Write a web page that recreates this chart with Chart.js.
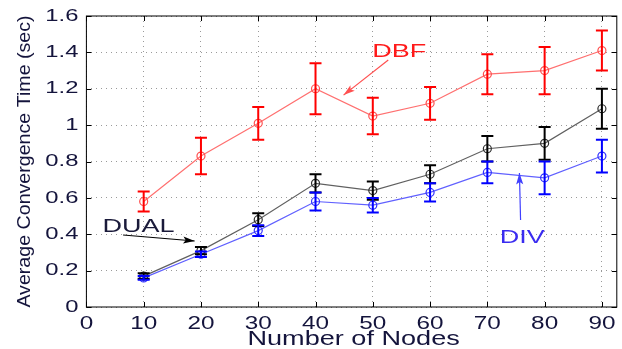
<!DOCTYPE html>
<html>
<head>
<meta charset="utf-8">
<script src="https://cdn.jsdelivr.net/npm/chart.js@4/dist/chart.umd.min.js"></script>
<style>
body { margin: 0; background: #fff; }
</style>
</head>
<body>
<canvas id="myChart" width="622" height="349"></canvas>
<script>
// data
const nodes = [10, 20, 30, 40, 50, 60, 70, 80, 90];
const xTicks = [0, 10, 20, 30, 40, 50, 60, 70, 80, 90];
const yTicks = [0, 0.2, 0.4, 0.6, 0.8, 1, 1.2, 1.4, 1.6];

const dbf = [0.58, 0.83, 1.01, 1.20, 1.05, 1.12, 1.28, 1.30, 1.41];
const dbfErr = [0.055, 0.10, 0.09, 0.14, 0.10, 0.09, 0.11, 0.13, 0.11];

const dual = [0.17, 0.31, 0.48, 0.68, 0.64, 0.73, 0.87, 0.90, 1.09];
const dualErr = [0.015, 0.02, 0.035, 0.05, 0.05, 0.05, 0.07, 0.09, 0.11];

const div = [0.16, 0.29, 0.42, 0.58, 0.56, 0.63, 0.74, 0.71, 0.83];
const divErr = [0.01, 0.015, 0.03, 0.05, 0.04, 0.05, 0.06, 0.09, 0.09];

// labels with arrows, in data units
const notes = [
    { text: 'DBF',  x: 54.6, y: 1.40, from: [52.7, 1.358], to: [44.9, 1.165], color: '#ff1a1a', arrow: '#ff5050' },
    { text: 'DUAL', x: 9.1,  y: 0.44, from: [6.4, 0.396],  to: [18.9, 0.363], color: '#1a1a3a', arrow: '#000000' },
    { text: 'DIV',  x: 76.1, y: 0.38, from: [75.8, 0.478], to: [75.6, 0.737], color: '#3a2cf0', arrow: '#4040ff' }
];

const errors = [dbfErr, dualErr, divErr];
const barColors = ['#ff0000', '#000000', '#0000ff'];

function stretchText(ctx, text, x, y, size, sx, color, align, rot)
{
    ctx.save();
    ctx.translate(x, y);
    if (rot) ctx.rotate(rot);
    ctx.scale(sx, 1);
    ctx.font = size + 'px "Liberation Sans", Arial, sans-serif';
    ctx.fillStyle = color;
    ctx.textAlign = align;
    ctx.textBaseline = 'middle';
    ctx.fillText(text, 0, 0);
    ctx.restore();
}

const errorBars = {
    id: 'errorBars',
    afterDatasetsDraw(chart) {
        const ctx = chart.ctx;
        const xs = chart.scales.x, ys = chart.scales.y;
        ctx.save();
        ctx.lineWidth = 2;
        for (let d = 0; d < errors.length; d++) {
            const vals = chart.data.datasets[d].data;
            ctx.strokeStyle = barColors[d];
            for (let i = 0; i < vals.length; i++) {
                const px = xs.getPixelForValue(vals[i].x);
                const top = ys.getPixelForValue(vals[i].y + errors[d][i]);
                const bot = ys.getPixelForValue(vals[i].y - errors[d][i]);
                ctx.beginPath();
                ctx.moveTo(px, top); ctx.lineTo(px, bot);
                ctx.moveTo(px - 6, top); ctx.lineTo(px + 6, top);
                ctx.moveTo(px - 6, bot); ctx.lineTo(px + 6, bot);
                ctx.stroke();
            }
        }
        ctx.restore();
    }
};

const frameAndText = {
    id: 'frameAndText',
    afterDraw(chart) {
        const ctx = chart.ctx;
        const a = chart.chartArea;
        const xs = chart.scales.x, ys = chart.scales.y;
        ctx.save();
        ctx.strokeStyle = '#000';
        ctx.lineWidth = 1;
        ctx.strokeRect(a.left, a.top, a.right - a.left, a.bottom - a.top);
        // inward ticks
        ctx.beginPath();
        xTicks.forEach(v => {
            const px = Math.round(xs.getPixelForValue(v)) + 0.5;
            ctx.moveTo(px, a.bottom); ctx.lineTo(px, a.bottom - 5);
            ctx.moveTo(px, a.top); ctx.lineTo(px, a.top + 5);
        });
        yTicks.forEach(v => {
            const py = Math.round(ys.getPixelForValue(v)) + 0.5;
            ctx.moveTo(a.left, py); ctx.lineTo(a.left + 5, py);
            ctx.moveTo(a.right, py); ctx.lineTo(a.right - 5, py);
        });
        ctx.stroke();
        ctx.restore();

        // tick labels
        xTicks.forEach(v => {
            stretchText(ctx, String(v), xs.getPixelForValue(v), a.bottom + 17, 18, 1.35, '#14143c', 'center');
        });
        yTicks.forEach(v => {
            stretchText(ctx, String(v), a.left - 8, ys.getPixelForValue(v), 17, 1.4, '#14143c', 'right');
        });
        // axis titles
        stretchText(ctx, 'Number of Nodes', (a.left + a.right) / 2 + 2, 339, 21, 1.29, '#14143c', 'center');
        stretchText(ctx, 'Average Convergence Time (sec)', 25, (a.top + a.bottom) / 2, 18, 1.09, '#14143c', 'center', -Math.PI / 2);

        // annotations
        notes.forEach(n => {
            const x1 = xs.getPixelForValue(n.from[0]), y1 = ys.getPixelForValue(n.from[1]);
            const x2 = xs.getPixelForValue(n.to[0]), y2 = ys.getPixelForValue(n.to[1]);
            const ang = Math.atan2(y2 - y1, x2 - x1);
            ctx.save();
            ctx.strokeStyle = n.arrow;
            ctx.fillStyle = n.arrow;
            ctx.lineWidth = 1.2;
            ctx.beginPath();
            ctx.moveTo(x1, y1); ctx.lineTo(x2, y2);
            ctx.stroke();
            ctx.beginPath();
            ctx.moveTo(x2, y2);
            ctx.lineTo(x2 - 12 * Math.cos(ang - 0.3), y2 - 12 * Math.sin(ang - 0.3));
            ctx.lineTo(x2 - 9 * Math.cos(ang), y2 - 9 * Math.sin(ang));
            ctx.lineTo(x2 - 12 * Math.cos(ang + 0.3), y2 - 12 * Math.sin(ang + 0.3));
            ctx.closePath();
            ctx.fill();
            ctx.restore();
            stretchText(ctx, n.text, xs.getPixelForValue(n.x), ys.getPixelForValue(n.y), 18, 1.5, n.color, 'center');
        });
    }
};

function series(vals)
{
    return vals.map((v, i) => ({ x: nodes[i], y: v }));
}

const ctx = document.getElementById('myChart');

new Chart(ctx, {
    type: 'line',
    data: {
        datasets: [
            { label: 'DBF', data: series(dbf), borderColor: '#ff7070', pointBorderColor: '#ff5050' },
            { label: 'DUAL', data: series(dual), borderColor: '#606060', pointBorderColor: '#303030' },
            { label: 'DIV', data: series(div), borderColor: '#6060ff', pointBorderColor: '#3030ff' }
        ]
    },
    options: {
        responsive: false,
        animation: false,
        layout: { padding: { top: 16, right: 2, left: 0, bottom: 0 } },
        elements: {
            line: { borderWidth: 1.2, tension: 0 },
            point: { radius: 4, borderWidth: 1.2, backgroundColor: 'rgba(0,0,0,0)' }
        },
        plugins: {
            legend: { display: false },
            tooltip: { enabled: false }
        },
        scales: {
            x: {
                type: 'linear',
                min: 0,
                max: 92.6,
                afterBuildTicks: s => { s.ticks = xTicks.map(v => ({ value: v })); },
                afterFit: s => { s.height = 42; },
                ticks: { display: false },
                grid: { color: '#9a9a9a', drawTicks: false },
                border: { display: false, dash: [1, 4] }
            },
            y: {
                min: 0,
                max: 1.6,
                afterBuildTicks: s => { s.ticks = yTicks.map(v => ({ value: v })); },
                afterFit: s => { s.width = 86.4; },
                ticks: { display: false },
                grid: { color: '#9a9a9a', drawTicks: false },
                border: { display: false, dash: [1, 4] }
            }
        }
    },
    plugins: [errorBars, frameAndText]
});
</script>
</body>
</html>
